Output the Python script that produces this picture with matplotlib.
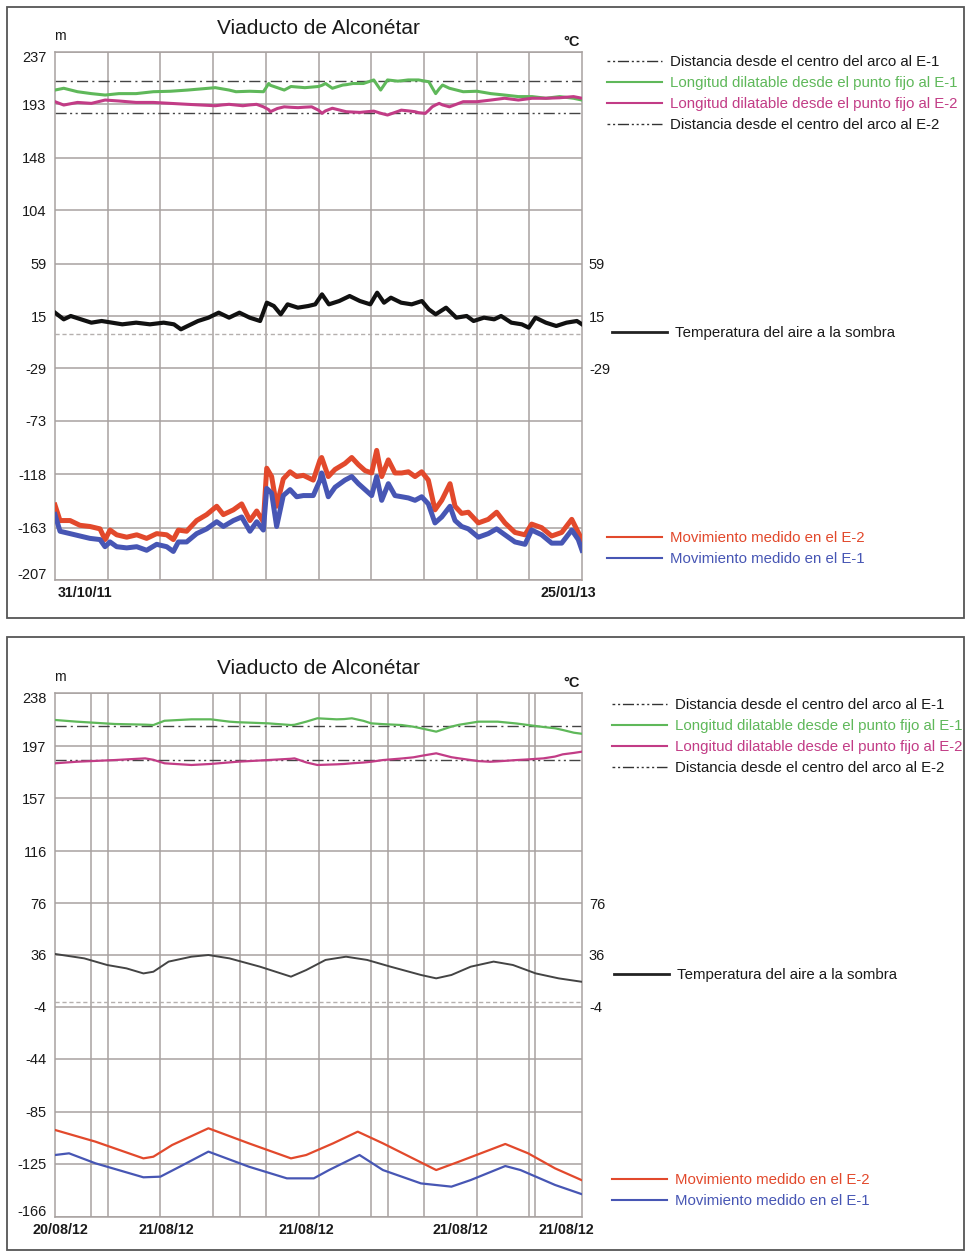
import numpy as np
import matplotlib
matplotlib.use("Agg")
import matplotlib.pyplot as plt
import matplotlib.transforms as mtrans
from matplotlib.patches import Rectangle
from matplotlib.lines import Line2D

plt.rcParams['font.family'] = ['Liberation Sans', 'DejaVu Sans']

# ---------------- panel 1: 31/10/11 - 25/01/13 (days) ----------------
p1_yticks = [237, 193, 148, 104, 59, 15, -29, -73, -118, -163, -207]
p1_rticks = [59, 15, -29]
p1_xlabels = ['31/10/11', '25/01/13']
p1_xlabel_pos = [26, 440]
p1_span = 452
p1_dist_e1 = 212.5
p1_dist_e2 = 185.5

p1_long_days = [0, 7.5, 19.3, 31.2, 43, 54.8, 69.5, 84.3, 99.1, 113.8, 125.7, 137.5,
                143.4, 149.3, 155.2, 161.1, 167, 172.9, 178.8, 183.3, 184.7, 190.7,
                196.6, 202.4, 208.4, 214.3, 220.2, 226.1, 229, 232, 237.9, 246.8,
                249.7, 255.6, 261.5, 264.5, 273.4, 279.3, 285.2, 294, 297, 302.9,
                308.8, 311.8, 317.6, 320.6, 323.5, 326.5, 329.5, 332.4, 338.3, 350.1,
                361.9, 373.8, 385.6, 397.4, 409.2, 421.1, 432.8, 444.7, 452]
p1_long_e1 = [205, 206.5, 203.6, 202, 200.8, 202, 202, 203.6, 204, 205, 206, 207,
              206, 205, 203.6, 203.8, 204, 203.8, 203.6, 210.5, 209, 207,
              205, 208, 207.5, 207, 207.5, 208, 209, 210.5, 206.5, 209.2,
              209.5, 210.5, 210.5, 210.5, 213.5, 205, 213.5, 212.5, 212.8, 213.5,
              213.5, 213.5, 212.5, 212, 207, 202, 206, 209.2, 206.5, 203.6,
              204, 202, 200.8, 199.5, 199.5, 198.1, 199.5, 198.1, 196.6]
p1_long_e2 = [195.2, 192.4, 194.6, 193.8, 196.6, 195.8, 194.6, 194.6, 193.8, 193, 192.4, 191.8,
              192.5, 193, 192.4, 191.8, 192.5, 193, 190.9, 188.5, 186.8, 189.5,
              190.9, 190.5, 190.2, 190.6, 190.9, 188, 185.4, 187.5, 189.7, 187.5,
              186.8, 186.5, 186.2, 186.5, 187.3, 185.5, 184, 187, 188.1, 187.5,
              186.8, 186, 185.4, 188, 190.9, 192.5, 193.8, 192.5, 190.9, 195.2,
              195.2, 196.6, 198.1, 196.6, 198.1, 198.1, 198.5, 199.5, 198.1]

p1_temp_days = [0, 7.5, 13.5, 22.3, 31.2, 40, 48.9, 57.7, 69.6, 81.4, 93.2, 102, 108,
                113.8, 122.7, 131.6, 140.4, 149.3, 158.2, 167, 175.9, 181.7, 187.7,
                193.6, 199.5, 208.3, 217.2, 223.2, 229, 234.9, 243.8, 252.7, 261.5,
                270.4, 276.3, 282.2, 288.1, 296.9, 305.9, 314.7, 320.6, 326.5, 335.4,
                344.2, 353.1, 359, 367.9, 376.7, 382.6, 391.4, 400.4, 406.3, 412.1,
                421, 429.9, 438.7, 447.6, 452]
p1_temp = [17.8, 12.2, 15, 12.2, 9.4, 10.8, 9.4, 8, 9.4, 8, 9.4, 8, 3.8,
           6.6, 10.8, 13.6, 17.8, 13.6, 17.8, 13.6, 10.8, 26.2, 23.4,
           16.4, 24.8, 22, 23.4, 24.8, 33.2, 24.8, 27.6, 31.8, 27.6,
           24.8, 34.6, 26.2, 30.4, 26.2, 24.8, 27.6, 20.6, 16.4, 22,
           13.6, 15, 10.8, 13.6, 12.2, 15, 9.4, 8, 5.2, 13.6,
           9.4, 6.6, 9.4, 10.8, 8]

p1_mov_days = [0, 4.3, 12.9, 21.4, 30, 38.6, 42.9, 47.2, 52.9, 61.5, 70.1, 78.6, 87.2,
               95.8, 101.5, 105.8, 112.9, 121.5, 130.1, 138.7, 144.4, 153, 160.1,
               167.2, 173, 178.7, 181.6, 185.8, 190.1, 195.8, 201.6, 207.3, 213,
               221.5, 227.3, 228.7, 234.4, 240.2, 248.7, 254.5, 260.2, 265.9, 271.6,
               275.9, 280.2, 285.9, 291.6, 297.4, 303.1, 308.8, 314.5, 320.2, 325.9,
               331.7, 338.8, 343.1, 348.8, 354.5, 363.1, 371.6, 378.8, 385.9, 394.5,
               403.1, 408.8, 417.4, 426, 434.6, 443.2, 448.8, 452]
p1_mov_e2 = [-144, -157, -157, -161, -162, -164, -173, -165, -169, -171, -169, -172, -168,
             -169, -173, -165, -166, -157, -152, -145, -152, -148, -143,
             -157, -149, -158, -113, -120, -145, -122, -116, -120, -119,
             -123, -106, -104, -120, -114, -109, -104, -110, -115, -117,
             -98, -120, -106, -117, -117, -116, -120, -116, -123, -148,
             -140, -126, -145, -151, -150, -159, -156, -150, -159, -167,
             -169, -160, -163, -170, -167, -156, -167, -173]
p1_mov_e1 = [-152, -166, -168, -170, -172, -173, -179, -175, -179, -180, -179, -182, -177,
             -179, -183, -175, -175, -168, -164, -158, -162, -157, -154,
             -166, -158, -165, -130, -134, -162, -136, -131, -137, -136,
             -136, -123, -117, -137, -129, -123, -120, -126, -131, -136,
             -120, -140, -126, -136, -137, -138, -140, -137, -143, -159,
             -154, -145, -157, -162, -164, -171, -168, -164, -169, -175,
             -177, -165, -169, -176, -176, -165, -173, -182]

# ---------------- panel 2: 20/08/12 - 21/08/12 (hours) ----------------
p2_yticks = [238, 197, 157, 116, 76, 36, -4, -44, -85, -125, -166]
p2_rticks = [76, 36, -4]
p2_xlabels = ['20/08/12', '21/08/12', '21/08/12', '21/08/12', '21/08/12']
p2_xlabel_pos = [1, 19, 42.9, 69.2, 87.4]
p2_span = 90
p2_day_marks = [6.15, 31.6, 56.9, 82]
p2_dist_e1 = 212.5
p2_dist_e2 = 186.5

p2_long_hours = [0, 3.7, 10.2, 15.4, 16.8, 18.7, 23.3, 26.6, 29.8, 31.1, 36.4, 40.3, 40.9,
                 42.9, 44.8, 48.1, 49.4, 50.7, 52.7, 54, 56, 59.2, 61.2, 62.5, 65.1,
                 67.7, 69, 72.3, 74.3, 75.6, 78.8, 80.8, 83.4, 85.4, 86.7, 88.6, 89.9]
p2_long_e1 = [217.2, 215.9, 214.1, 213.6, 213.3, 216.6, 217.7, 217.7, 215.9, 215.5, 214.6, 213.3, 213.5,
              215.9, 218.5, 217.7, 217.9, 218.5, 216.5, 214.6, 214, 213.3, 212, 210.8, 208.2,
              212.1, 213.5, 215.9, 215.9, 215.9, 214.5, 213.3, 211.8, 210.8, 209.5, 207.4, 206.6]
p2_long_e2 = [183.8, 185, 186.3, 187.6, 186.5, 183.8, 182.5, 183.3, 184.5, 185, 186.3, 187.3, 187.6,
              184.5, 182.5, 183, 183.3, 183.8, 184.4, 185, 186.3, 187.5, 188.4, 189.5, 191.5,
              188.5, 187.6, 185.5, 185, 185.3, 186.3, 186.8, 187.6, 189, 190.7, 191.8, 192.7]

p2_temp_hours = [0, 5, 8.9, 12.2, 15.1, 16.8, 19.4, 23.3, 26.2, 29.8, 35, 40.3, 42.9,
                 46.2, 49.7, 53.3, 57.3, 62.5, 65.1, 67.7, 71, 74.9, 78.2, 82.1, 86, 89.9]
p2_temp = [36.8, 33.4, 28.3, 25.7, 21.8, 23.1, 30.9, 34.7, 36, 33.4, 27, 19.3, 24.4,
           32.2, 34.7, 32.2, 27, 20.6, 18, 20.6, 27, 30.9, 28.3, 21.8, 18, 15.4]

p2_e2_hours = [0, 6.9, 15.1, 16.8, 20, 26.2, 33.1, 40.3, 42.9, 47.5, 51.7, 56, 65.1,
               69, 76.9, 80.8, 85.4, 89.9]
p2_mov_e2 = [-98.9, -107.9, -120.8, -119.5, -110.5, -97.6, -109.2, -120.8, -118.2, -109.2,
             -100.2, -109.2, -129.8, -123.3, -109.7, -116.9, -128.5, -137.5]
p2_e1_hours = [0, 2.4, 6.9, 15.1, 18, 21.3, 26.2, 33.1, 39.6, 44.2, 46.8, 52, 56,
               62.5, 67.7, 71, 76.9, 79.5, 85.4, 89.9]
p2_mov_e1 = [-118.2, -116.9, -124.6, -135.4, -134.9, -127.2, -115.6, -127.2, -136.2, -136.2,
             -129.8, -118.2, -129.8, -140.1, -142.6, -137.5, -126.7, -129.8, -141.3, -148.3]

# ---------------- styling ----------------
GRID = '#a8a2a0'
C_GREEN = '#5fb85a'
C_PINK = '#c23c86'
C_RED = '#e2492c'
C_BLUE = '#4756b4'
TXT = '#1a1a1a'

LBL = {
    'd1': 'Distancia desde el centro del arco al E-1',
    'l1': 'Longitud dilatable desde el punto fijo al E-1',
    'l2': 'Longitud dilatable desde el punto fijo al E-2',
    'd2': 'Distancia desde el centro del arco al E-2',
    'temp': 'Temperatura del aire a la sombra',
    'm2': 'Movimiento medido en el E-2',
    'm1': 'Movimiento medido en el E-1',
}

W, H = 966, 1252
fig = plt.figure(figsize=(W / 100, H / 100), dpi=100)


def fx(px):
    return px / W


def fy(py):
    return 1 - py / H


def panel(top_px, bot_px, yticks, rticks, span, xlabels, xlabel_pos, extra_v,
          long_x, long_e1, long_e2, dist_e1, dist_e2, temp_x, temp,
          e2_x, mov_e2, e1_x, mov_e1, lw_long, lw_temp, lw_mov, temp_col,
          leg_rows):
    ax = fig.add_axes([fx(55), fy(bot_px), fx(582) - fx(55), (bot_px - top_px) / H])
    ax.set_xlim(0, span)
    ax.set_ylim(yticks[-1], yticks[0])
    ax.set_yticks(yticks)
    ax.set_yticklabels([str(v) for v in yticks])
    ax.set_xticks(xlabel_pos)
    ax.set_xticklabels(xlabels)
    ax.set_xticks(list(np.linspace(0, span, 11)[1:-1]) + list(extra_v), minor=True)
    ax.tick_params(axis='both', which='both', length=0, labelsize=10.5, colors=TXT)
    ax.tick_params(axis='y', pad=6)
    ax.tick_params(axis='x', pad=4)
    for lab in ax.get_xticklabels():
        lab.set_fontweight('bold')
        lab.set_fontsize(10.3)
    # pull the end labels of the y axis slightly inward, as in the original
    ylabs = ax.get_yticklabels()
    ylabs[0].set_transform(ylabs[0].get_transform()
                           + mtrans.ScaledTranslation(0, -3 / 72, fig.dpi_scale_trans))
    ylabs[-1].set_transform(ylabs[-1].get_transform()
                            + mtrans.ScaledTranslation(0, 5 / 72, fig.dpi_scale_trans))
    ax.grid(True, axis='y', which='major', color=GRID, lw=1.1)
    ax.grid(True, axis='x', which='minor', color=GRID, lw=1.1)
    ax.grid(False, axis='x', which='major')
    for s in ax.spines.values():
        s.set_color(GRID)
        s.set_linewidth(1.1)
    ax.set_axisbelow(True)

    # reference lines
    ax.axhline(0, color='#b5b0ae', lw=1.0, ls=(0, (3, 2)), zorder=1)
    ax.axhline(dist_e1, color='#444444', lw=1.0, ls=(0, (8, 3, 1.5, 3)), zorder=2)
    ax.axhline(dist_e2, color='#444444', lw=1.0, ls=(0, (8, 2.5, 1.5, 2.5, 1.5, 2.5)), zorder=2)

    ax.plot(long_x, long_e1, color=C_GREEN, lw=lw_long, zorder=3)
    ax.plot(long_x, long_e2, color=C_PINK, lw=lw_long, zorder=3)
    ax.plot(temp_x, temp, color=temp_col, lw=lw_temp, zorder=3)
    ax.plot(e2_x, mov_e2, color=C_RED, lw=lw_mov, zorder=3)
    ax.plot(e1_x, mov_e1, color=C_BLUE, lw=lw_mov, zorder=4)

    ax2 = ax.twinx()
    ax2.set_ylim(ax.get_ylim())
    ax2.set_yticks(rticks)
    ax2.set_yticklabels([str(v) for v in rticks])
    ax2.tick_params(length=0, labelsize=10.5, colors=TXT, pad=5)
    for s in ax2.spines.values():
        s.set_visible(False)

    # title and units
    fig.text(fx(318), fy(top_px - 24), 'Viaducto de Alconétar', ha='center', va='center',
             fontsize=15, color=TXT)
    fig.text(fx(60), fy(top_px - 16), 'm', ha='center', va='center', fontsize=10, color=TXT)
    fig.text(fx(572), fy(top_px - 10), '°C', ha='center', va='center', fontsize=10.5,
             color=TXT, fontweight='bold')

    # legends
    leg_kw = dict(frameon=False, loc='upper left', bbox_transform=fig.transFigure,
                  fontsize=10.8, handlelength=3.67, handletextpad=0.53, borderpad=0,
                  borderaxespad=0, labelspacing=0.47)
    h_top = [Line2D([], [], color='#333333', lw=1.0, ls=(0, (2, 2, 1.5, 2, 8, 2, 1.5, 2))),
             Line2D([], [], color=C_GREEN, lw=1.5),
             Line2D([], [], color=C_PINK, lw=1.5),
             Line2D([], [], color='#333333', lw=1.0, ls=(0, (2, 2, 1.5, 2, 8, 2, 1.5, 2, 1.5, 2)))]
    l_top = [LBL['d1'], LBL['l1'], LBL['l2'], LBL['d2']]
    c_top = [TXT, C_GREEN, C_PINK, TXT]
    leg1 = ax.legend(h_top, l_top, bbox_to_anchor=(fx(leg_rows[0][0]), fy(leg_rows[0][1])), **leg_kw)
    for t, c in zip(leg1.get_texts(), c_top):
        t.set_color(c)
    ax.add_artist(leg1)

    leg2 = ax.legend([Line2D([], [], color='#222222', lw=2.0)], [LBL['temp']],
                     bbox_to_anchor=(fx(leg_rows[1][0]), fy(leg_rows[1][1])), **leg_kw)
    leg2.get_texts()[0].set_color(TXT)
    ax.add_artist(leg2)

    leg3 = ax.legend([Line2D([], [], color=C_RED, lw=1.5), Line2D([], [], color=C_BLUE, lw=1.5)],
                     [LBL['m2'], LBL['m1']],
                     bbox_to_anchor=(fx(leg_rows[2][0]), fy(leg_rows[2][1])), **leg_kw)
    for t, c in zip(leg3.get_texts(), [C_RED, C_BLUE]):
        t.set_color(c)
    return ax


panel(52, 580, p1_yticks, p1_rticks, p1_span, p1_xlabels, p1_xlabel_pos, [],
      p1_long_days, p1_long_e1, p1_long_e2, p1_dist_e1, p1_dist_e2,
      p1_temp_days, p1_temp, p1_mov_days, p1_mov_e2, p1_mov_days, p1_mov_e1,
      2.2, 3.0, 3.6, '#111111',
      [(607, 55), (612, 326), (607, 531)])

panel(693, 1217, p2_yticks, p2_rticks, p2_span, p2_xlabels, p2_xlabel_pos, p2_day_marks,
      p2_long_hours, p2_long_e1, p2_long_e2, p2_dist_e1, p2_dist_e2,
      p2_temp_hours, p2_temp, p2_e2_hours, p2_mov_e2, p2_e1_hours, p2_mov_e1,
      1.6, 1.4, 1.6, '#444444',
      [(612, 698), (614, 968), (612, 1173)])

# panel frames
for y0, y1 in [(7, 618), (637, 1250)]:
    fig.patches.append(Rectangle((fx(7), fy(y1)), fx(964) - fx(7), (y1 - y0) / H,
                                 transform=fig.transFigure, fill=False,
                                 edgecolor='#555555', lw=1.3))

fig.savefig('out.png', dpi=100)
